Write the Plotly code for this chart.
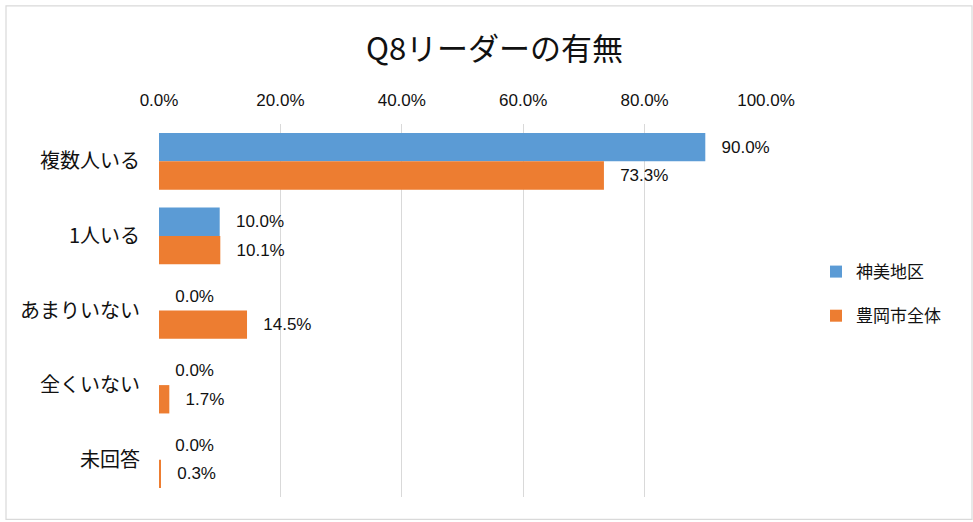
import plotly.graph_objects as go

categories = ["複数人いる", "1人いる", "あまりいない", "全くいない", "未回答"]
series_names = ["神美地区", "豊岡市全体"]
kamibi = [0.900, 0.100, 0.0, 0.0, 0.0]
toyooka = [0.733, 0.101, 0.145, 0.017, 0.003]
colors = ["#5B9BD5", "#ED7D31"]
tick_vals = [0, 0.2, 0.4, 0.6, 0.8, 1.0]
tick_text = ["0.0%", "20.0%", "40.0%", "60.0%", "80.0%", "100.0%"]

W, H = 973, 522
L, R, T, B = 159, 207, 123.5, 24.5
pw, ph = W - L - R, H - T - B
LAT = "Liberation Sans, Arial"
CJK = "Noto Sans CJK JP"

fig = go.Figure()
for name, vals, col in zip(series_names, [kamibi, toyooka], colors):
    fig.add_trace(go.Bar(
        y=categories, x=vals, name=name, orientation="h", legendgroup=name,
        marker=dict(color=col, line=dict(width=0)),
        text=[f"{v*100:.1f}%" for v in vals],
        textposition="outside",
        texttemplate="\u2002 %{text}",
        cliponaxis=False,
        textfont=dict(size=17, color="#111111", family=LAT),
    ))

fig.update_layout(
    width=W, height=H,
    margin=dict(l=L, r=R, t=T, b=B),
    paper_bgcolor="white", plot_bgcolor="white",
    barmode="group", bargap=0.24, bargroupgap=0,
    title=dict(text="Q8リーダーの有無", x=494.5 / W, xanchor="center",
               y=1 - 49 / H, yanchor="middle",
               font=dict(size=31, color="#111111", family=CJK)),
    font=dict(family=CJK, color="#111111"),
    xaxis=dict(side="top", range=[0, 1], tickvals=tick_vals, ticktext=tick_text,
               showgrid=True, gridcolor="#D9D9D9", gridwidth=1.3, zeroline=False,
               showline=False, ticks="", ticklabelstandoff=14,
               tickfont=dict(size=17, color="#111111", family=LAT)),
    yaxis=dict(autorange="reversed", showgrid=False, zeroline=False, showline=False,
               ticks="", ticklabelstandoff=18,
               tickfont=dict(size=20, color="#111111", family=CJK)),
    legend=dict(x=(816 - L) / pw, y=(H - B - 294) / ph, xanchor="left", yanchor="middle",
                font=dict(size=17, color="#111111", family=CJK),
                traceorder="grouped", itemwidth=30, tracegroupgap=19,
                bgcolor="rgba(0,0,0,0)"),
    shapes=[dict(type="rect", xref="paper", yref="paper",
                 x0=(6 - L) / pw, x1=(972 - L) / pw,
                 y0=(H - B - 520) / ph, y1=(H - B - 5) / ph,
                 line=dict(color="#D9D9D9", width=1.2), fillcolor="rgba(0,0,0,0)", layer="below")],
)

fig.write_html("out.html", config={"displayModeBar": False},
               post_script="document.body.style.margin='0';document.body.style.overflow='hidden';")
